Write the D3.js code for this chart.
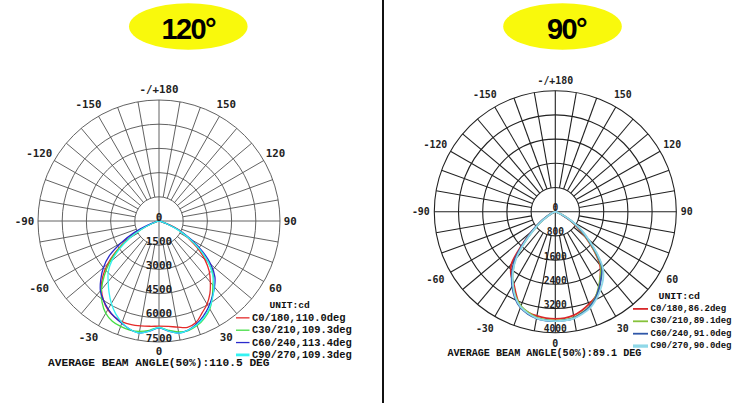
<!DOCTYPE html>
<html><head><meta charset="utf-8">
<script src="https://cdn.jsdelivr.net/npm/d3@7"></script>
<style>html,body{margin:0;padding:0;background:#fff;}svg{display:block;}</style>
</head><body>
<script>
// ---- DATA ----
const gammaAngles = d3.range(-90, 91, 5); // -90..90 step 5 (37 values)

const titles = ["120°", "90°"];
const angleTicks = [0, 30, 60, 90, 120, 150, 180, -150, -120, -90, -60, -30];
const angleTickLabels = ["0", "30", "60", "90", "120", "150", "-/+180", "-150", "-120", "-90", "-60", "-30"];

// Chart A (120 deg), cd
const ringTicksA = [0, 1500, 3000, 4500, 6000, 7500];
const seriesNamesA = ["C0/180,110.0deg", "C30/210,109.3deg", "C60/240,113.4deg", "C90/270,109.3deg"];
const a_C0 = [0,0,50,150,500,1300,2200,3200,4150,4950,5550,6000,6350,6550,6650,6650,6600,6550,6520,6560,6680,6820,6700,6300,5950,5500,4950,4400,3700,2900,2050,1500,700,150,50,0,0];
const a_C30 = [0,0,50,150,450,1200,2100,3100,4000,4800,5550,6150,6600,6850,6950,7000,6950,6800,6600,6800,6980,7030,6900,6650,6300,5750,5200,4750,4000,3100,2200,1350,550,150,50,0,0];
const a_C60 = [0,0,60,200,700,1700,2700,3750,4500,5100,5650,6000,6300,6550,6750,6950,7050,6850,6620,6850,7050,7000,6800,6500,6150,5750,5350,4900,4200,3300,2300,1400,550,150,50,0,0];
const a_C90 = [0,0,40,150,450,1200,2050,2950,3800,4450,4900,5400,5900,6350,6700,6950,7050,6850,6600,6850,7050,7000,6850,6600,6250,5800,5300,4700,4000,3100,2150,1300,500,150,50,0,0];
const averageA = "AVERAGE BEAM ANGLE(50%):110.5 DEG";

// Chart B (90 deg), cd
const ringTicksB = [0, 800, 1600, 2400, 3200, 4000];
const seriesNamesB = ["C0/180,86.2deg", "C30/210,89.1deg", "C60/240,91.0deg", "C90/270,90.0deg"];
const b_C0 = [0,0,0,20,60,150,300,600,1000,1550,2250,2550,2750,3050,3350,3450,3500,3530,3540,3530,3480,3380,3250,3120,2900,2600,2300,1800,1300,900,550,250,90,20,0,0,0];
const b_C30 = [0,0,0,20,60,140,300,580,950,1450,2050,2450,2800,3100,3320,3450,3550,3590,3600,3590,3550,3450,3330,3130,2870,2600,2350,1850,1350,950,580,260,90,20,0,0,0];
const b_C60 = [0,0,0,20,60,150,320,620,1000,1500,2100,2500,2850,3150,3370,3500,3580,3610,3620,3610,3570,3470,3340,3150,2900,2650,2400,1900,1400,1000,600,270,100,25,0,0,0];
const b_C90 = [0,0,0,20,50,130,280,560,920,1420,2000,2450,2800,3120,3350,3480,3570,3610,3620,3610,3580,3490,3380,3200,2980,2750,2450,1950,1450,1050,650,300,110,30,0,0,0];
const averageB = "AVERAGE BEAM ANGLE(50%):89.1 DEG";

// ---- DRAW ----
const W = 750, H = 403;
const svg = d3.select("body").append("svg").attr("width", W).attr("height", H);
svg.append("rect").attr("width", W).attr("height", H).attr("fill", "#fff");

// divider
svg.append("line").attr("x1", 383).attr("x2", 383).attr("y1", 0).attr("y2", H)
  .attr("stroke", "#111").attr("stroke-width", 2);

const angleScale = d3.scaleLinear().domain([-180, 180]).range([2 * Math.PI, 0]);

function drawChart(cfg) {
  const g = svg.append("g").attr("transform", `translate(${cfg.cx},${cfg.cy})`);
  const R = cfg.R;
  const rScale = d3.scaleLinear().domain([0, d3.max(cfg.ringTicks)]).range([0, R]);
  const pt = (deg, r) => {
    const a = angleScale(deg);
    return [r * Math.sin(a), -r * Math.cos(a)];
  };
  // title
  svg.append("ellipse").attr("cx", cfg.tx).attr("cy", 26.5).attr("rx", 59.3).attr("ry", 23.3)
    .attr("fill", "#f9f90c");
  svg.append("text").attr("x", cfg.tx + cfg.tdx).attr("y", 38.5).attr("text-anchor", "middle")
    .attr("font-family", "Liberation Sans, Arial, sans-serif").attr("font-weight", "bold")
    .attr("font-size", 29).attr("letter-spacing", -1.6).attr("fill", "#000").text(cfg.title);

  const grid = g.append("g").attr("stroke", cfg.gridColor).attr("stroke-width", cfg.gridW).attr("fill", "none");
  cfg.ringTicks.slice(1).forEach(v => grid.append("circle").attr("r", rScale(v)));
  const r1 = rScale(cfg.ringTicks[1]);
  d3.range(0, 360, 10).forEach(d => {
    const inner = (d % 90 === 0) ? 0 : r1;
    const p0 = pt(d, inner), p1 = pt(d, R);
    grid.append("line").attr("x1", p0[0]).attr("y1", p0[1]).attr("x2", p1[0]).attr("y2", p1[1]);
  });

  // curves
  const line = d3.lineRadial()
    .angle(d => angleScale(d[0]))
    .radius(d => rScale(d[1]))
    .curve(d3.curveCatmullRom.alpha(0.5));
  cfg.series.forEach((s, i) => {
    const data = gammaAngles.map((a, k) => [a, s[k]]);
    g.append("path").attr("d", line(data)).attr("fill", "none")
      .attr("stroke", cfg.colors[i]).attr("stroke-width", cfg.curveW).attr("stroke-linejoin", "round");
  });

  // ring labels
  cfg.ringTicks.forEach(v => {
    g.append("text").attr("x", 0).attr("y", rScale(v) - 4)
      .attr("text-anchor", "middle").attr("dominant-baseline", "central")
      .attr("font-family", "DejaVu Sans Mono, monospace").attr("font-weight", "bold")
      .attr("font-size", cfg.ringFont).attr("fill", "#222").text(v);
  });
  // angle labels (digits centred on the radial position, minus sign sticks out to the left)
  angleTicks.forEach((d, i) => {
    let r = (Math.abs(d) % 180 === 0 || Math.abs(d) === 90) ? cfg.labelR0 : cfg.labelR;
    if (d === 0) r = cfg.labelRBottom;
    const p = pt(d, r);
    const shift = (d < 0) ? -0.301 * cfg.angleFont : 0;
    g.append("text").attr("x", p[0] + shift).attr("y", p[1])
      .attr("text-anchor", "middle").attr("dominant-baseline", "central")
      .attr("font-family", "DejaVu Sans Mono, monospace").attr("font-weight", "bold")
      .attr("font-size", cfg.angleFont).attr("fill", "#222").text(angleTickLabels[i]);
  });

  // legend
  svg.append("text").attr("x", cfg.unitX).attr("y", cfg.legY0).attr("dominant-baseline", "central")
    .attr("font-family", "Liberation Mono, monospace").attr("font-weight", "bold")
    .attr("font-size", cfg.unitFont).attr("fill", "#111").text("UNIT:cd");
  cfg.names.forEach((n, i) => {
    const y = cfg.legY0 + cfg.legDy * (i + 1);
    svg.append("line").attr("x1", cfg.swX).attr("x2", cfg.swX + cfg.swW).attr("y1", y).attr("y2", y)
      .attr("stroke", cfg.colors[i]).attr("stroke-width", i === 3 ? cfg.curveW + 1.5 : cfg.curveW);
    svg.append("text").attr("x", cfg.swX + cfg.swW + 2.5).attr("y", y).attr("dominant-baseline", "central")
      .attr("font-family", "Liberation Mono, monospace").attr("font-weight", "bold")
      .attr("font-size", cfg.legFont).attr("fill", "#111").text(n);
  });
  svg.append("text").attr("x", cfg.avgX).attr("y", cfg.avgY).attr("dominant-baseline", "central")
    .attr("font-family", "Liberation Mono, monospace").attr("font-weight", "bold")
    .attr("font-size", cfg.avgFont).attr("fill", "#111").text(cfg.avg);
}

drawChart({
  cx: 159, cy: 221, R: 121, labelR: 134.5, labelR0: 131.2, labelRBottom: 130, tx: 188.3, tdx: 0, title: titles[0],
  ringTicks: ringTicksA, series: [a_C0, a_C30, a_C60, a_C90], names: seriesNamesA,
  colors: ["#e42a2a", "#44dd44", "#2a2acc", "#33f2f2"],
  gridColor: "#505050", gridW: 0.9, curveW: 1.3, ringFont: 11, angleFont: 10.8,
  unitX: 269.5, unitFont: 9.6, legY0: 305.5, legDy: 12.35, swX: 236, swW: 13.5, legFont: 10.4,
  avg: averageA, avgX: 48, avgY: 362.5, avgFont: 11.2
});
drawChart({
  cx: 555.3, cy: 211.7, R: 121, labelR: 135, labelR0: 131.5, labelRBottom: 131.5, tx: 562.5, tdx: 4, title: titles[1],
  ringTicks: ringTicksB, series: [b_C0, b_C30, b_C60, b_C90], names: seriesNamesB,
  colors: ["#d8282a", "#86c23a", "#2f57a8", "#8fd8e8"],
  gridColor: "#222", gridW: 1.1, curveW: 1.8, ringFont: 9.6, angleFont: 9.9,
  unitX: 658.5, unitFont: 9.9, legY0: 296.5, legDy: 12.4, swX: 633, swW: 15, legFont: 9,
  avg: averageB, avgX: 447.5, avgY: 353, avgFont: 10.1
});
</script>
</body></html>
